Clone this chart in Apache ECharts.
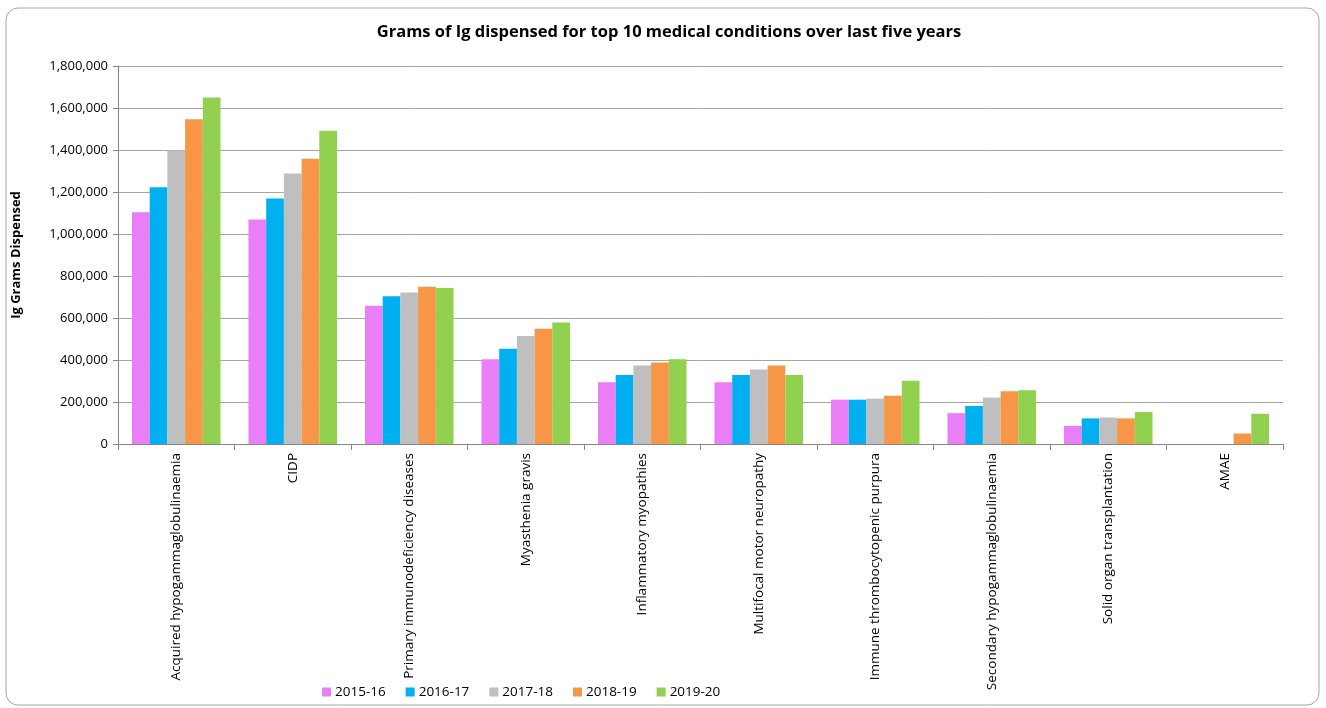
<!DOCTYPE html>
<html>
<head>
<meta charset="utf-8">
<script src="https://cdn.jsdelivr.net/npm/echarts@6/dist/echarts.min.js"></script>
<style>
  html, body { margin: 0; padding: 0; background: #fff; }
  #chart { width: 1326px; height: 708px; }
</style>
</head>
<body>
<div id="chart"></div>
<script>
// conditions, in the order shown
var conditions = [
  'Acquired hypogammaglobulinaemia', 'CIDP', 'Primary immunodeficiency diseases',
  'Myasthenia gravis', 'Inflammatory myopathies', 'Multifocal motor neuropathy',
  'Immune thrombocytopenic purpura', 'Secondary hypogammaglobulinaemia',
  'Solid organ transplantation', 'AMAE'
];
var years = ['2015-16', '2016-17', '2017-18', '2018-19', '2019-20'];

// grams dispensed
var y2015 = [1104000, 1069000, 658000, 404000, 294000, 294000, 211000, 147000, 86000, null];
var y2016 = [1223000, 1169000, 703000, 453000, 329000, 329000, 211000, 181000, 122000, null];
var y2017 = [1398000, 1288000, 722000, 514000, 374000, 355000, 216000, 221000, 126000, null];
var y2018 = [1547000, 1358000, 749000, 549000, 388000, 374000, 230000, 251000, 122000, 50000];
var y2019 = [1650000, 1492000, 743000, 579000, 404000, 329000, 301000, 256000, 152000, 144000];

var colors = ['#E97EF6', '#00B0F0', '#BFBFBF', '#F79646', '#92D050'];
var font = 'Open Sans';

var chart = echarts.init(document.getElementById('chart'));

var allValues = [y2015, y2016, y2017, y2018, y2019];
var series = years.map(function (y, i) {
  return {
    name: y,
    type: 'bar',
    data: allValues[i],
    barGap: '0%',
    barCategoryGap: '24%',
    itemStyle: { color: colors[i] }
  };
});

chart.setOption({
  animation: false,
  color: colors,
  textStyle: { fontFamily: font },
  graphic: [{
    type: 'rect',
    shape: { x: 6, y: 8, width: 1313, height: 697, r: 12 },
    style: { fill: 'none', stroke: '#A6A6A6', lineWidth: 1 },
    z: -1
  }],
  title: {
    text: 'Grams of Ig dispensed for top 10 medical conditions over last five years',
    left: 664,
    textAlign: 'center',
    top: 19,
    textStyle: { fontFamily: font, fontSize: 16.5, fontWeight: 'bold', color: '#000' }
  },
  legend: {
    bottom: 4,
    left: 317,
    itemWidth: 9,
    itemHeight: 9,
    itemGap: 20,
    icon: 'rect',
    textStyle: { fontFamily: font, fontSize: 13.5, color: '#000', padding: [0, 0, 0, -1] }
  },
  grid: { left: 118, right: 43, top: 66, bottom: 264 },
  xAxis: {
    type: 'category',
    data: conditions,
    axisLine: { lineStyle: { color: '#868686' } },
    axisTick: { show: true, alignWithLabel: false, length: 6, lineStyle: { color: '#868686' } },
    axisLabel: {
      interval: 0,
      rotate: 90,
      margin: 9,
      fontFamily: font,
      fontSize: 13.5,
      color: '#000'
    }
  },
  yAxis: {
    type: 'value',
    min: 0,
    max: 1800000,
    interval: 200000,
    name: 'Ig Grams Dispensed',
    nameLocation: 'middle',
    nameRotate: 90,
    nameGap: 95,
    nameTextStyle: { fontFamily: font, fontSize: 13, fontWeight: 'bold', color: '#000' },
    axisLine: { show: true, lineStyle: { color: '#868686' } },
    axisTick: { show: true, length: 5, lineStyle: { color: '#868686' } },
    axisLabel: {
      margin: 10,
      fontFamily: font,
      fontSize: 13,
      color: '#000',
      formatter: function (v) { return v.toLocaleString('en-US'); }
    },
    splitLine: { lineStyle: { color: '#A6A6A6' } }
  },
  series: series
});
</script>
</body>
</html>
